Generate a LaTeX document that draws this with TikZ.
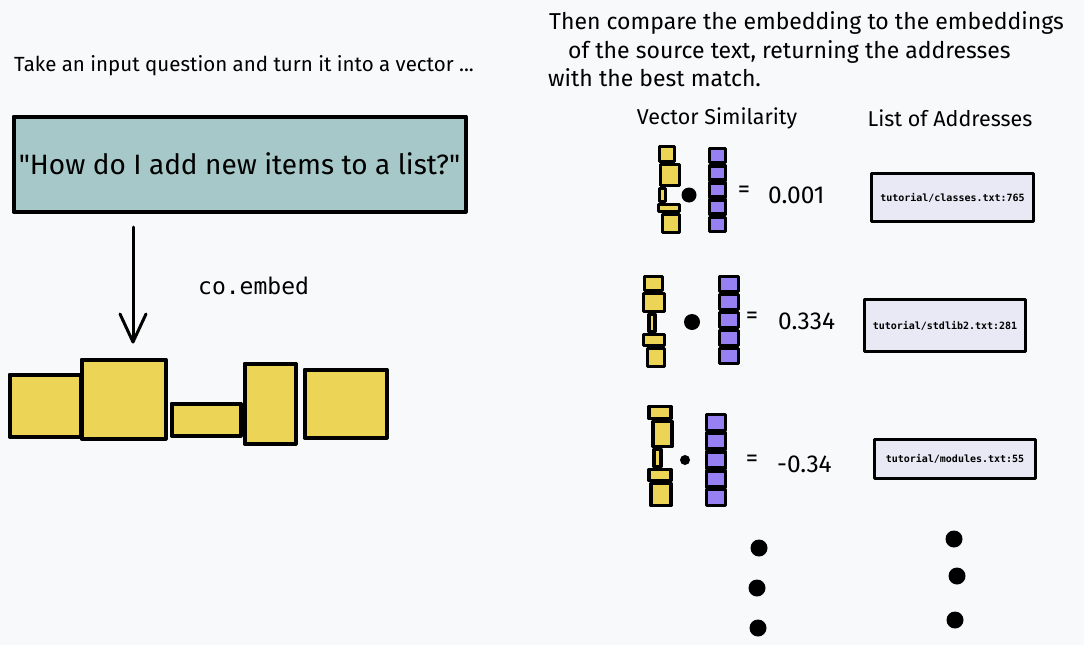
\documentclass[tikz,border=0pt]{standalone}
\usepackage{fontspec}
\setmainfont{Fira Sans}[Ligatures=TeXOff]
\setmonofont{DejaVu Sans Mono}
\usetikzlibrary{arrows.meta}

\definecolor{bgcol}{RGB}{248,249,250}
\definecolor{tealfill}{RGB}{166,200,200}
\definecolor{yfill}{RGB}{235,212,86}
\definecolor{pfill}{RGB}{151,128,242}
\definecolor{lavfill}{RGB}{233,233,246}

\begin{document}
\begin{tikzpicture}[x=1pt, y=-1pt, line cap=round, line join=round,
    qbox/.style={draw, line width=4pt, fill=tealfill, minimum width=452pt,
                 minimum height=95pt, inner sep=0pt, font=\fontsize{28}{32}\selectfont},
    ebox/.style={draw, line width=4pt, fill=yfill, inner sep=0pt},
    ycell/.style={draw, line width=3.5pt, fill=yfill, inner sep=0pt},
    pcell/.style={draw, line width=3.5pt, fill=pfill, inner sep=0pt},
    addr/.style={draw, line width=3.5pt, fill=lavfill, inner sep=0pt,
                 font=\ttfamily\bfseries\fontsize{10}{12}\selectfont},
    dotprod/.style={circle, fill=black, inner sep=0pt},
    more/.style={circle, fill=black, inner sep=0pt, minimum size=17pt},
    note/.style={inner sep=0pt, anchor=west, font=\fontsize{20.5}{24}\selectfont},
    head/.style={inner sep=0pt, anchor=west, font=\fontsize{23}{27}\selectfont},
    colhead/.style={inner sep=0pt, font=\fontsize{21.5}{25}\selectfont},
    num/.style={inner sep=0pt, font=\fontsize{24.5}{28}\selectfont},
    code/.style={inner sep=0pt, anchor=west, font=\ttfamily\fontsize{23}{26}\selectfont},
    arr/.style={-{Straight Barb[length=28pt, width=26pt, round]}, line width=3pt},
  ]
    \fill[bgcol] (0,0) rectangle (1084,645);
    \useasboundingbox (0,0) rectangle (1084,645);

    % Left side: question -> embedding -------------------------------------
    \node[note] (intro) at (14,66) {Take an input question and turn it into a vector ...};
    \node[qbox] (question) at (239.5,164) {"How do I add new items to a list?"};
    \node[code] (embed) at (198,286) {co.embed};

    \node[ebox, minimum width=71pt, minimum height=62pt] (emb1) at (45,405.5) {};
    \node[ebox, minimum width=84pt, minimum height=79pt] (emb2) at (123.5,399) {};
    \node[ebox, minimum width=69pt, minimum height=32pt] (emb3) at (206,419.5) {};
    \node[ebox, minimum width=51pt, minimum height=80pt] (emb4) at (270,403.5) {};
    \node[ebox, minimum width=82pt, minimum height=68pt] (emb5) at (345.5,403.5) {};

    \coordinate (arrtop) at (133,227);
    \draw[arr, shorten >=14pt] (arrtop) -- (arrtop |- emb2.north);

    % Right side: headings --------------------------------------------------
    \node[head] (head1) at (549,23) {Then compare the embedding to the embeddings};
    \node[head] (head2) at (568,52) {of the source text, returning the addresses};
    \node[head] (head3) at (548,78) {with the best match.};
    \node[colhead] (simhead)  at (717,118) {Vector Similarity};
    \node[colhead] (addrhead) at (950,118) {List of Addresses};

    % Row 1 -----------------------------------------------------------------
    \foreach \cx/\cy/\w/\h [count=\i] in {667/154/15/15, 670/175/19/21,
        662.5/195/6/13, 669/208/21/7, 671/223.5/17/18}
      \node[ycell, minimum width=\w pt, minimum height=\h pt] (ya\i) at (\cx,\cy) {};
    \foreach \k in {0,...,4}
      \node[pcell, minimum width=16pt, minimum height=14pt] (pa\k) at (717.5,{155.6+17.2*\k}) {};
    \node[dotprod, minimum size=15pt] (da) at (689,195) {};
    \node[num] (eqa) at (744,192) {=};
    \node[num, anchor=west] (sa) at (768,195) {0.001};
    \node[addr, minimum width=162pt, minimum height=48pt] (adda) at (952.5,197.5) {tutorial/classes.txt:765};

    % Row 2 -----------------------------------------------------------------
    \foreach \cx/\cy/\w/\h [count=\i] in {653.5/283.5/18/14, 654/302.5/21/18,
        652/323/6/17, 654/340/21/11, 656/357.5/17/18}
      \node[ycell, minimum width=\w pt, minimum height=\h pt] (yb\i) at (\cx,\cy) {};
    \foreach \k in {0,...,4}
      \node[pcell, minimum width=19pt, minimum height=15pt] (pb\k) at (729,{284+18*\k}) {};
    \node[dotprod, minimum size=16pt] (db) at (692,322) {};
    \node[num] (eqb) at (752,318) {=};
    \node[num, anchor=west] (sb) at (778,321) {0.334};
    \node[addr, minimum width=161pt, minimum height=52pt] (addb) at (945,325.5) {tutorial/stdlib2.txt:281};

    % Row 3 -----------------------------------------------------------------
    \foreach \cx/\cy/\w/\h [count=\i] in {660/412.5/22/12, 662.5/434/19/25,
        657.5/458/7/17, 660/475/22/11, 661/494.5/20/22}
      \node[ycell, minimum width=\w pt, minimum height=\h pt] (yc\i) at (\cx,\cy) {};
    \foreach \k in {0,...,4}
      \node[pcell, minimum width=19pt, minimum height=16pt] (pc\k) at (716,{422.4+18.8*\k}) {};
    \node[dotprod, minimum size=10pt] (dc) at (685,460) {};
    \node[num] (eqc) at (752,461) {=};
    \node[num, anchor=west] (sc) at (777,464) {-0.34};
    \node[addr, minimum width=161pt, minimum height=39pt] (addc) at (955,459) {tutorial/modules.txt:55};

    % More rows ---------------------------------------------------------------
    \foreach \dx/\dy [count=\i] in {759/548, 757/588, 758/628}
      \node[more] (mleft\i) at (\dx,\dy) {};
    \foreach \dx/\dy [count=\i] in {954/539, 957/576, 955/620}
      \node[more] (mright\i) at (\dx,\dy) {};
  \end{tikzpicture}
\end{document}
